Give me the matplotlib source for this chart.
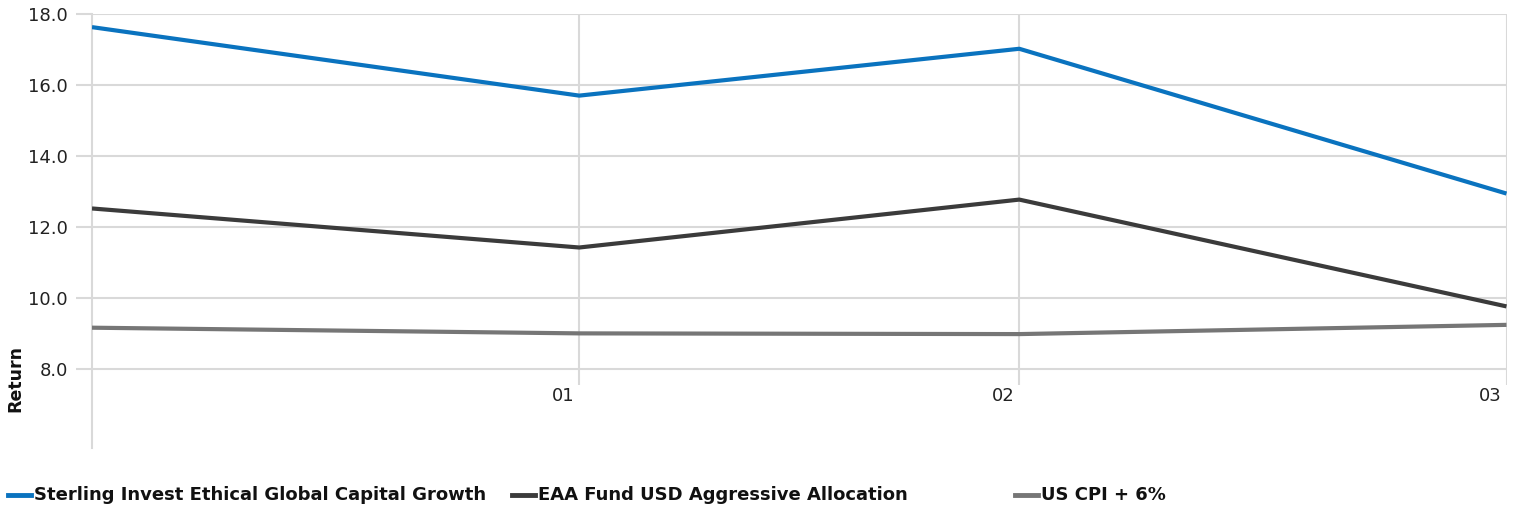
import matplotlib
matplotlib.use("Agg")
import matplotlib.pyplot as plt
import matplotlib.dates as mdates
from matplotlib.lines import Line2D
import pandas as pd

# data (month-end values)
dates = pd.to_datetime(["2022-12-31", "2023-01-31", "2023-02-28", "2023-03-31"])
sterling = [17.63, 15.70, 17.02, 12.94]
eaa_fund = [12.52, 11.42, 12.77, 9.76]
us_cpi = [9.16, 9.00, 8.98, 9.24]

series_names = [
    "Sterling Invest Ethical Global Capital Growth",
    "EAA Fund USD Aggressive Allocation",
    "US CPI + 6%",
]
series_values = [sterling, eaa_fund, us_cpi]
series_colors = ["#0a73bf", "#3b3b3b", "#767676"]
y_ticks = [8, 10, 12, 14, 16, 18]

plt.rcParams["font.family"] = ["DejaVu Sans"]

fig = plt.figure(figsize=(15.2, 5.07), dpi=100)
ax = fig.add_axes([92 / 1520, 1 - 448 / 507, (1506.5 - 92) / 1520, (448 - 14) / 507])

grid_color = "#d9d9d9"
text_color = "#222222"

for values, color in zip(series_values, series_colors):
    ax.plot(dates, values, color=color, linewidth=3, solid_capstyle="butt", zorder=3)

ax.set_xlim(dates[0], dates[-1])
ax.set_ylim(5.77, 18)
ax.set_yticks(y_ticks)
ax.set_yticklabels([f"{v:.1f}" for v in y_ticks], fontsize=13, color=text_color)
ax.tick_params(axis="y", length=11.5, width=1.5, color=grid_color, pad=6)
ax.grid(axis="y", color=grid_color, linewidth=1.5, zorder=0)

# vertical grid lines at each month end, stopping just below the 8.0 line
ax.vlines(dates[1:], 7.55, 18, color=grid_color, linewidth=1.5, zorder=0)

ax.set_xticks([])
for d in dates[1:]:
    ax.text(mdates.date2num(d) - 0.3, 7.5, d.strftime("%m"), ha="right", va="top",
            fontsize=13, color=text_color)

for side in ["top", "right", "bottom"]:
    ax.spines[side].set_visible(False)
ax.spines["left"].set_color(grid_color)
ax.spines["left"].set_linewidth(1.5)

fig.text(15 / 1520, 1 - 378 / 507, "Return", rotation=90, ha="center", va="center",
         fontsize=12.5, fontweight="bold", color="#111111")

# legend drawn by hand so columns are evenly spaced
for i, (name, color) in enumerate(zip(series_names, series_colors)):
    x0 = (8 + i * 503.5) / 1520
    y0 = 1 - 495 / 507
    fig.add_artist(Line2D([x0, x0 + 23 / 1520], [y0, y0], color=color, linewidth=3.5,
                          transform=fig.transFigure))
    fig.text(x0 + 26 / 1520, y0, name, ha="left", va="center", fontsize=13,
             fontweight="bold", color="#111111")

fig.savefig("out.png", dpi=100)
